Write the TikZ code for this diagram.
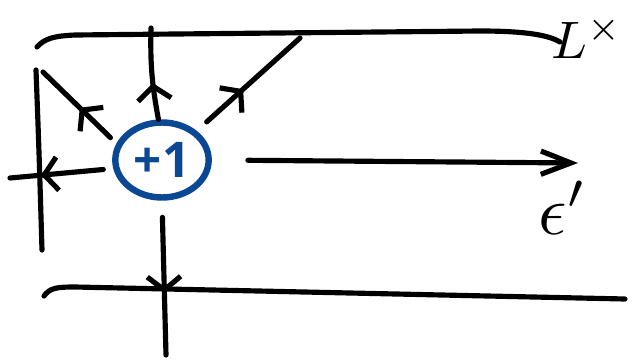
\documentclass[tikz,border=0pt]{standalone}
\usepackage{fontspec}
\newfontfamily\markfont{Open Sans}
\usetikzlibrary{arrows.meta,decorations.markings,shapes.geometric}
\definecolor{inkblue}{RGB}{10,72,148}
\begin{document}
\begin{tikzpicture}[
  x=0.03cm, y=-0.03cm,
  pen/.style={line width=4.4pt, line cap=round, line join=round},
  flow/.style={pen, postaction={decorate}, decoration={markings, mark=at position #1 with {\arrow{Straight Barb[length=0.4cm,width=1cm]}}}},
  flow/.default=0.5,
  vertex/.style={ellipse, draw=inkblue, line width=5.5pt, inner sep=0pt, minimum width=2.8cm, minimum height=2.25cm, text=inkblue, font=\markfont\bfseries\fontsize{42}{42}\selectfont},
  tag/.style={inner sep=0pt}
]
\useasboundingbox (0,0) rectangle (632,362);

\draw[pen] (37,47) .. controls (45,38) and (55,36) .. (75,35) -- (480,31) .. controls (530,31) and (550,36) .. (560,42);
\draw[pen] (44,296) .. controls (50,288) and (56,287) .. (75,287) -- (625,299);
\draw[pen] (36,70) .. controls (39,150) .. (42,250);

\node[vertex] (vtx) at (162,160) {+1};
\node[tag] (lbl) at (587,38) {\scalebox{4.5}{$L^{\times}$}};
\node[tag] (eps) at (563,208) {\scalebox{6}{$\epsilon'$}};

\coordinate (up) at (151,28);
\coordinate (ur) at (300,38);
\coordinate (ul) at (43,72);
\coordinate (lf) at (10,178);
\coordinate (dn) at (166,355);
\coordinate (rt) at (578,163);

\draw[flow=0.4] (vtx.95) to[bend left=6] (up);
\draw[flow=0.45, shorten <=0.4cm] (vtx.40) -- (ur);
\draw[flow=0.5, shorten <=0.25cm] (vtx.160) -- (ul);
\draw[flow=0.7, shorten <=0.3cm] (vtx.190) -- (lf);
\draw[flow=0.6, shorten <=0.5cm] (vtx.south) -- (dn);
\draw[pen, -{Straight Barb[length=0.9cm,width=0.7cm]}, shorten <=1.08cm] (vtx.east) -- (rt);
\end{tikzpicture}
\end{document}
